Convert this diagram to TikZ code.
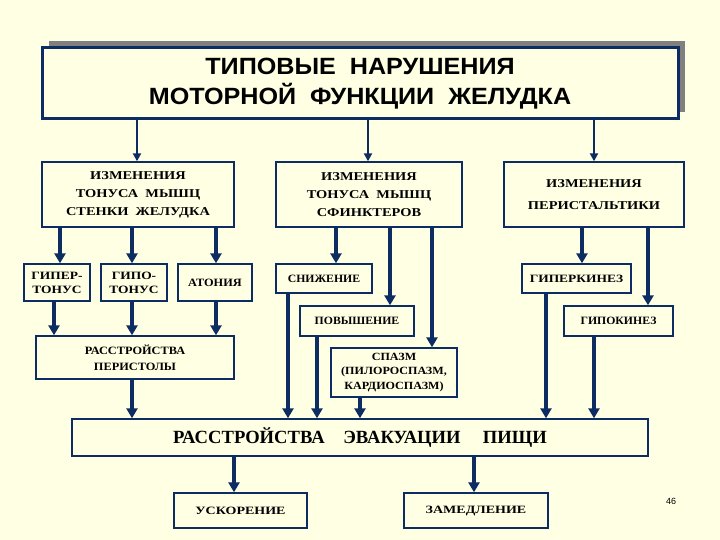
\documentclass[tikz,border=0pt]{standalone}
\usepackage{fontspec}
\setmainfont{Liberation Serif}
\newfontfamily\titlefont[FakeStretch=1.07]{Liberation Sans}
\newfontfamily\pgfont{Liberation Sans}
\newfontfamily\wideserif[FakeStretch=1.2]{Liberation Serif}
\newfontfamily\wideA[FakeStretch=1.05]{Liberation Serif}
\newfontfamily\wideB[FakeStretch=1.1]{Liberation Serif}
\newfontfamily\wideD[FakeStretch=1.25]{Liberation Serif}
\usetikzlibrary{arrows.meta}
\definecolor{bgc}{RGB}{255,255,228}
\definecolor{navy}{RGB}{12,44,98}
\definecolor{shadowc}{RGB}{128,128,128}
\tikzset{
  box/.style={draw=navy, line width=1.4pt, fill=bgc, inner sep=0pt, align=center,
    font=\wideserif\bfseries\fontsize{12}{18}\selectfont},
  small/.style={font=\wideserif\bfseries\fontsize{11.2}{14}\selectfont},
  smallA/.style={font=\wideA\bfseries\fontsize{11.2}{14}\selectfont},
  smallB/.style={font=\wideB\bfseries\fontsize{11.2}{14}\selectfont},
  smallD/.style={font=\wideD\bfseries\fontsize{11.2}{14}\selectfont},
  conn/.style={draw=navy, line width=4pt, -{Triangle[width=11pt,length=10pt]}},
  thinconn/.style={draw=navy, line width=2.6pt, -{Triangle[width=8pt,length=8pt]}},
}
\begin{document}
\begin{tikzpicture}[x=1pt,y=-1pt]
\useasboundingbox[fill=bgc] (0,0) rectangle (720,540);
% title shadow
\fill[shadowc] (49,41) rectangle (685,112);
\node[draw=navy, line width=3pt, fill=bgc, minimum width=636pt, minimum height=71pt, inner sep=0pt, align=center,
  font=\titlefont\bfseries\fontsize{23.5}{29.5}\selectfont] (title) at (360,83.5)
  {ТИПОВЫЕ \ НАРУШЕНИЯ\\МОТОРНОЙ \ ФУНКЦИИ \ ЖЕЛУДКА};
% level 1
\node[box, minimum width=192pt, minimum height=65pt] (b1) at (138,194.5) {ИЗМЕНЕНИЯ\\ТОНУСА \ МЫШЦ\\СТЕНКИ \ ЖЕЛУДКА};
\node[box, minimum width=186pt, minimum height=65pt] (b2) at (369,194.5) {ИЗМЕНЕНИЯ\\ТОНУСА \ МЫШЦ\\СФИНКТЕРОВ};
\node[box, minimum width=180pt, minimum height=65pt, font=\wideserif\bfseries\fontsize{12}{22.5}\selectfont] (b3) at (594,194.5) {ИЗМЕНЕНИЯ\\ПЕРИСТАЛЬТИКИ};
% level 2
\node[box, small, minimum width=66pt, minimum height=37pt] (hyper) at (57,282.5) {ГИПЕР-\\ТОНУС};
\node[box, small, minimum width=66pt, minimum height=37pt] (hypo) at (134,282.5) {ГИПО-\\ТОНУС};
\node[box, smallB, minimum width=74pt, minimum height=37pt] (aton) at (215,282.5) {АТОНИЯ};
\node[box, smallA, minimum width=96pt, minimum height=29pt] (snizh) at (324,278.5) {СНИЖЕНИЕ};
\node[box, smallA, minimum width=114pt, minimum height=30pt] (povysh) at (357,321) {ПОВЫШЕНИЕ};
\node[box, small, minimum width=109pt, minimum height=29pt] (hyperk) at (576.5,278.5) {ГИПЕРКИНЕЗ};
\node[box, smallA, minimum width=109pt, minimum height=30pt] (hypok) at (618.5,321) {ГИПОКИНЕЗ};
% level 3
\node[box, minimum width=198pt, minimum height=43pt, font=\wideB\bfseries\fontsize{11.2}{16}\selectfont] (perist) at (135,357.5) {РАССТРОЙСТВА\\ПЕРИСТОЛЫ};
\node[box, minimum width=126pt, minimum height=49pt, font=\wideB\bfseries\fontsize{11}{14.5}\selectfont] (spasm) at (394,372.5) {СПАЗМ\\(ПИЛОРОСПАЗМ,\\КАРДИОСПАЗМ)};
% evacuation
\node[box, minimum width=576pt, minimum height=37pt, font=\bfseries\fontsize{18.6}{20}\selectfont] (evac) at (360,437.5)
  {РАССТРОЙСТВА\hspace{1em}ЭВАКУАЦИИ\hspace{1.2em}ПИЩИ};
\node[box, smallD, minimum width=133pt, minimum height=35pt] (uskor) at (240.5,510.5) {УСКОРЕНИЕ};
\node[box, smallD, minimum width=144pt, minimum height=35pt] (zamed) at (476,510.5) {ЗАМЕДЛЕНИЕ};
\node[font=\pgfont\fontsize{9}{10}\selectfont, inner sep=0pt] (pg) at (671,501) {46};
% connectors from title
\draw[thinconn] (title.south -| 137,0) -- (b1.north -| 137,0);
\draw[thinconn] (title.south -| 368,0) -- (b2.north -| 368,0);
\draw[thinconn] (title.south -| 594,0) -- (b3.north -| 594,0);
% from b1
\draw[conn] (b1.south -| 60,0) -- (hyper.north -| 60,0);
\draw[conn] (b1.south -| 132,0) -- (hypo.north -| 132,0);
\draw[conn] (b1.south -| 216,0) -- (aton.north -| 216,0);
\draw[conn] (hyper.south -| 54,0) -- (perist.north -| 54,0);
\draw[conn] (hypo.south -| 132,0) -- (perist.north -| 132,0);
\draw[conn] (aton.south -| 216,0) -- (perist.north -| 216,0);
% from b2
\draw[conn] (b2.south -| 336,0) -- (snizh.north -| 336,0);
\draw[conn] (b2.south -| 390,0) -- (povysh.north -| 390,0);
\draw[conn] (b2.south -| 432,0) -- (spasm.north -| 432,0);
% from b3
\draw[conn] (b3.south -| 582,0) -- (hyperk.north -| 582,0);
\draw[conn] (b3.south -| 648,0) -- (hypok.north -| 648,0);
% into evacuation
\draw[conn] (perist.south -| 132,0) -- (evac.north -| 132,0);
\draw[conn] (snizh.south -| 288,0) -- (evac.north -| 288,0);
\draw[conn] (povysh.south -| 317,0) -- (evac.north -| 317,0);
\draw[conn] (spasm.south -| 360,0) -- (evac.north -| 360,0);
\draw[conn] (hyperk.south -| 546,0) -- (evac.north -| 546,0);
\draw[conn] (hypok.south -| 594,0) -- (evac.north -| 594,0);
% out of evacuation
\draw[conn] (evac.south -| 234,0) -- (uskor.north -| 234,0);
\draw[conn] (evac.south -| 474,0) -- (zamed.north -| 474,0);
\end{tikzpicture}
\end{document}
